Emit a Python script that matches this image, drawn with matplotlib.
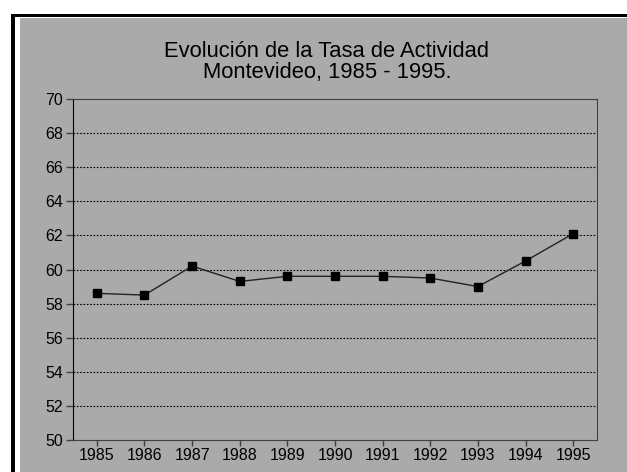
import matplotlib
matplotlib.use("Agg")
import matplotlib.pyplot as plt
from matplotlib.patches import Rectangle

years = [1985, 1986, 1987, 1988, 1989, 1990, 1991, 1992, 1993, 1994, 1995]
tasa = [58.6, 58.5, 60.2, 59.3, 59.6, 59.6, 59.6, 59.5, 59.0, 60.5, 62.1]
yticks = [50, 52, 54, 56, 58, 60, 62, 64, 66, 68, 70]

plt.rcParams['font.family'] = ['Liberation Sans', 'DejaVu Sans']

W, H = 627, 472
fig = plt.figure(figsize=(W / 100, H / 100), dpi=100)
fig.patch.set_facecolor('white')

# marco negro y fondo gris
fig.patches.append(Rectangle((11 / W, 0), 1 - 11 / W, 1 - 14 / H, transform=fig.transFigure,
                             facecolor='black', edgecolor='none', zorder=-3))
fig.patches.append(Rectangle((15 / W, 0), 1, 1 - 17 / H, transform=fig.transFigure,
                             facecolor='white', edgecolor='none', zorder=-2))
fig.patches.append(Rectangle((20 / W, 0), 1, 1 - 18 / H, transform=fig.transFigure,
                             facecolor='#aaaaaa', edgecolor='none', zorder=-1))

ax = fig.add_axes([73 / W, 32 / H, (597 - 73) / W, (440 - 99) / H])
ax.set_facecolor('#aaaaaa')

ax.plot(years, tasa, color='#222222', linewidth=1, marker='s', markersize=6,
        markerfacecolor='black', markeredgecolor='black', zorder=3)

ax.set_xlim(1984.5, 1995.5)
ax.set_ylim(50, 70)
ax.set_xticks(years)
ax.set_yticks(yticks)
ax.tick_params(labelsize=11.5, length=5, width=1, colors='#404040', labelcolor='black', pad=2)
ax.tick_params(axis='x', length=4, pad=1.5)
for y in yticks[1:-1]:
    ax.axhline(y, color='black', linestyle=(0, (1.5, 1.5)), linewidth=0.8, zorder=1)

for side in ['top', 'right', 'bottom']:
    ax.spines[side].set_color('#404040')
ax.spines['left'].set_color('black')

fig.text(327 / W, 1 - 62 / H, 'Evolución de la Tasa de Actividad\nMontevideo, 1985 - 1995.',
         ha='center', va='center', fontsize=15.8, linespacing=1.05)

plt.savefig('out.png', dpi=100, facecolor=fig.get_facecolor())
